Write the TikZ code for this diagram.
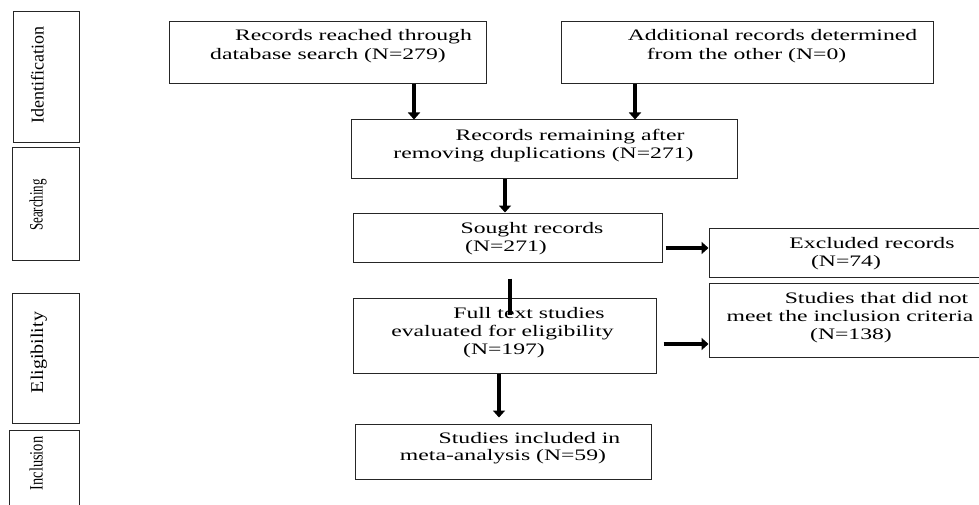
\documentclass[tikz,border=0pt]{standalone}
\usepackage{fontspec}
\usepackage{graphicx}
\setmainfont{Liberation Serif}
\newfontfamily\mainf[FakeStretch=1.48]{Liberation Serif}
\usetikzlibrary{arrows.meta}
\begin{document}
\begin{tikzpicture}[x=1pt,y=-1pt,
  box/.style={draw=black!85, line width=1pt, inner sep=0pt, rectangle},
  txt/.style={font=\mainf\fontsize{16}{19}\selectfont, inner sep=0pt, anchor=base},
  lab/.style={font=\fontsize{18}{20}\selectfont, inner sep=0pt, anchor=base, rotate=90},
  arr/.style={line width=4.5pt, -{Triangle[length=7pt,width=12pt]}},
  bar/.style={line width=4.5pt}]
\useasboundingbox (0,0) rectangle (979,505);
\clip (0,0) rectangle (979,505);

% stage boxes
\node[box, minimum width=66pt, minimum height=131pt] (S1) at (46,77.5) {};
\node[box, minimum width=67pt, minimum height=112pt] (S2) at (45.5,204) {};
\node[box, minimum width=67pt, minimum height=130pt] (S3) at (45.5,358) {};
\node[box, minimum width=70pt, minimum height=90pt] (S4) at (44,475) {};
\node[lab] (L1) at (43.5,75) {Identification};
\node[lab] (L2) at (42.5,205) {\scalebox{0.72}[1.05]{Searching}};
\node[lab] (L3) at (43,352.5) {\scalebox{1.11}[1]{Eligibility}};
\node[lab] (L4) at (42.5,463.5) {\scalebox{0.8}[1.05]{Inclusion}};

% flow boxes
\node[box, minimum width=317pt, minimum height=62pt] (A) at (327.5,53) {};
\node[box, minimum width=372pt, minimum height=62pt] (B) at (747,53) {};
\node[box, minimum width=386pt, minimum height=59pt] (C) at (544,149.5) {};
\node[box, minimum width=309pt, minimum height=49pt] (D) at (507.5,237.5) {};
\node[box, minimum width=274pt, minimum height=49pt] (E) at (846,252.5) {};
\node[box, minimum width=274pt, minimum height=74pt] (F) at (846,320) {};
\node[box, minimum width=303pt, minimum height=75pt] (G) at (504.5,335.5) {};
\node[box, minimum width=296pt, minimum height=55pt] (H) at (503,451.5) {};

% texts
\node[txt] (A1) at (353.5,40.7) {Records reached through};
\node[txt] (A2) at (328,60) {database search (N=279)};
\node[txt] (B1) at (772.5,40.7) {Additional records determined};
\node[txt] (B2) at (746.5,60) {from the other (N=0)};
\node[txt] (C1) at (570,140.7) {Records remaining after};
\node[txt] (C2) at (543.5,159) {removing duplications (N=271)};
\node[txt] (D1) at (532,233) {Sought records};
\node[txt] (D2) at (506,251) {(N=271)};
\node[txt] (E1) at (872,248) {Excluded records};
\node[txt] (E2) at (846,266) {(N=74)};
\node[txt] (F1) at (876.5,303) {Studies that did not};
\node[txt] (F2) at (850,321) {meet the inclusion criteria};
\node[txt] (F3) at (851,339) {(N=138)};
\node[txt] (G1) at (529,318.7) {Full text studies};
\node[txt] (G2) at (502.5,336.7) {evaluated for eligibility};
\node[txt] (G3) at (504,354) {(N=197)};
\node[txt] (H1) at (529.5,443) {Studies included in};
\node[txt] (H2) at (503,460.5) {meta-analysis (N=59)};

% connectors
\coordinate (a1) at ([xshift=86.5pt]A.south);
\draw[arr] (a1) -- (a1 |- C.north);
\coordinate (b1) at ([xshift=-112pt]B.south);
\draw[arr] (b1) -- (b1 |- C.north);
\coordinate (c1) at ([xshift=-39pt]C.south);
\draw[arr] (c1) -- (c1 |- D.north);
\coordinate (d1) at ([xshift=3pt,yshift=-10.5pt]D.east);
\draw[arr] (d1) -- (d1 -| E.west);
\coordinate (d2) at ([xshift=2.5pt,yshift=-16pt]D.south);
\coordinate (d3) at ([yshift=-17pt]G.north);
\draw[bar] (d2) -- (d2 |- d3);
\coordinate (g1) at ([xshift=7pt,yshift=-8.5pt]G.east);
\draw[arr] (g1) -- (g1 -| F.west);
\coordinate (g2) at ([xshift=-5.5pt]G.south);
\coordinate (h0) at ([yshift=6pt]H.north);
\draw[arr] (g2) -- (g2 |- h0);
\end{tikzpicture}
\end{document}
